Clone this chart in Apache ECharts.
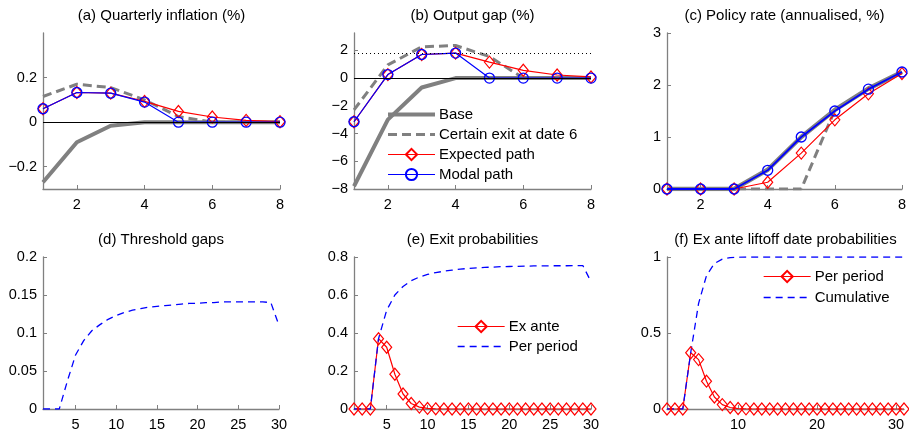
<!DOCTYPE html>
<html>
<head>
<meta charset="utf-8">
<style>
  html, body { margin: 0; padding: 0; background: #fff; }
  #chart { width: 909px; height: 432px; }
</style>
<script src="https://cdn.jsdelivr.net/npm/echarts@6/dist/echarts.min.js"></script>
</head>
<body>
<div id="chart"></div>
<script>
// Horizons
const periods8 = [1, 2, 3, 4, 5, 6, 7, 8];
const periods30 = [1,2,3,4,5,6,7,8,9,10,11,12,13,14,15,16,17,18,19,20,21,22,23,24,25,26,27,28,29,30];
const periods31 = [1,2,3,4,5,6,7,8,9,10,11,12,13,14,15,16,17,18,19,20,21,22,23,24,25,26,27,28,29,30,31];

// (a) Quarterly inflation (%)
const inflBase     = [-0.27, -0.09, -0.016, 0, 0, 0, 0, 0];
const inflExit6    = [0.115, 0.17, 0.155, 0.10, 0.025, 0, 0, 0];
const inflExpected = [0.06, 0.133, 0.13, 0.093, 0.048, 0.023, 0.008, 0.002];
const inflModal    = [0.06, 0.133, 0.13, 0.09, 0, 0, 0, 0];

// (b) Output gap (%)
const gapBase     = [-7.8, -3.0, -0.68, 0, 0, 0, 0, 0];
const gapExit6    = [-2.3, 0.95, 2.25, 2.35, 1.55, 0, 0, 0];
const gapExpected = [-3.15, 0.25, 1.7, 1.8, 1.15, 0.56, 0.22, 0.08];
const gapModal    = [-3.15, 0.25, 1.7, 1.8, 0, 0, 0, 0];
const gapThreshold = 1.8;

// (c) Policy rate (annualised, %)
const rateBase     = [0, 0, 0, 0.37, 1.0, 1.52, 1.93, 2.25];
const rateExit6    = [0, 0, 0, 0, 0, 1.52, 1.93, 2.25];
const rateExpected = [0, 0, 0, 0.13, 0.69, 1.33, 1.83, 2.22];
const rateModal    = [0, 0, 0, 0.36, 1.0, 1.5, 1.92, 2.25];

// (d) Threshold gaps
const thresholdGaps = [0, 0, 0, 0.037, 0.071, 0.090, 0.103, 0.111, 0.118, 0.123,
  0.127, 0.130, 0.132, 0.134, 0.135, 0.136, 0.137, 0.138, 0.139, 0.139,
  0.140, 0.140, 0.141, 0.141, 0.141, 0.141, 0.141, 0.141, 0.140, 0.110];

// (e) Exit probabilities
const exitExAnte = [0, 0, 0, 0.37, 0.325, 0.183, 0.079, 0.029, 0.010, 0.003,
  0.001, 0, 0, 0, 0, 0, 0, 0, 0, 0, 0, 0, 0, 0, 0, 0, 0, 0, 0, 0];
const exitPerPeriod = [0, 0, 0, 0.37, 0.52, 0.60, 0.645, 0.675, 0.695, 0.708,
  0.718, 0.725, 0.731, 0.736, 0.740, 0.743, 0.745, 0.747, 0.749, 0.750,
  0.751, 0.752, 0.753, 0.753, 0.754, 0.754, 0.754, 0.755, 0.755, 0.67];

// (f) Ex ante liftoff date probabilities
const liftoffPerPeriod = [0, 0, 0, 0.37, 0.325, 0.183, 0.079, 0.029, 0.010, 0.003,
  0.001, 0, 0, 0, 0, 0, 0, 0, 0, 0, 0, 0, 0, 0, 0, 0, 0, 0, 0, 0, 0];
const liftoffCumulative = [0, 0, 0, 0.37, 0.695, 0.878, 0.957, 0.986, 0.996, 0.999,
  1, 1, 1, 1, 1, 1, 1, 1, 1, 1, 1, 1, 1, 1, 1, 1, 1, 1, 1, 1, 1];

// Tick positions
const ticksX8 = [2, 4, 6, 8];
const ticksX30 = [5, 10, 15, 20, 25, 30];
const ticksX31 = [10, 20, 30];
const ticksInfl = [-0.2, 0, 0.2];
const ticksGap = [-8, -6, -4, -2, 0, 2];

const FONT = 'Liberation Sans, Arial, Helvetica, sans-serif';
const GRAY = '#808080';
const RED = '#ff0000';
const BLUE = '#0000ff';

const pairs = (xs, ys) => xs.map((x, i) => [x, ys[i]]);

const minusFmt = v => (v < 0 ? '\u2212' + String(-v) : String(v));

function xAxis(gridIndex, min, max, ticks) {
  return {
    type: 'value', gridIndex, min, max,
    axisLine: { show: true, onZero: false, lineStyle: { color: GRAY, width: 1.3 } },
    axisTick: { show: true, inside: true, length: 4, customValues: ticks, lineStyle: { color: GRAY, width: 1 } },
    axisLabel: { customValues: ticks, color: '#000', fontSize: 14.5, fontFamily: FONT, margin: 8 },
    splitLine: { show: false }
  };
}

function yAxis(gridIndex, min, max, opts) {
  const ax = {
    type: 'value', gridIndex, min, max,
    axisLine: { show: true, onZero: false, lineStyle: { color: GRAY, width: 1.3 } },
    axisTick: { show: true, inside: true, length: 4, lineStyle: { color: GRAY, width: 1 } },
    axisLabel: { color: '#000', fontSize: 14.5, fontFamily: FONT, margin: 6, formatter: minusFmt },
    splitLine: { show: false }
  };
  if (opts.ticks) {
    ax.axisTick.customValues = opts.ticks;
    ax.axisLabel.customValues = opts.ticks;
  }
  if (opts.interval) ax.interval = opts.interval;
  return ax;
}

function baseLine(name, idx, data, width) {
  return {
    name, type: 'line', xAxisIndex: idx, yAxisIndex: idx, data, z: 2,
    symbol: 'none', lineStyle: { color: GRAY, width: width || 4 }, itemStyle: { color: GRAY }
  };
}
function exitLine(name, idx, data) {
  return {
    name, type: 'line', xAxisIndex: idx, yAxisIndex: idx, data, z: 2,
    symbol: 'none', lineStyle: { color: GRAY, width: 3, type: [9, 5] }, itemStyle: { color: GRAY }
  };
}
function diamondLine(name, idx, data) {
  return {
    name, type: 'line', xAxisIndex: idx, yAxisIndex: idx, data, z: 3,
    symbol: 'diamond', symbolSize: [10, 12], showAllSymbol: true,
    lineStyle: { color: RED, width: 1.2 },
    itemStyle: { color: 'rgba(255,255,255,0)', borderColor: RED, borderWidth: 1.2 }
  };
}
function circleLine(name, idx, data, width) {
  return {
    name, type: 'line', xAxisIndex: idx, yAxisIndex: idx, data, z: 4,
    symbol: 'circle', symbolSize: 10, showAllSymbol: true,
    lineStyle: { color: BLUE, width: width || 1.2 },
    itemStyle: { color: 'rgba(255,255,255,0)', borderColor: BLUE, borderWidth: 1.3 }
  };
}
function dashedBlue(name, idx, data) {
  return {
    name, type: 'line', xAxisIndex: idx, yAxisIndex: idx, data, z: 3,
    symbol: 'none', lineStyle: { color: BLUE, width: 1.3, type: [7, 5] }, itemStyle: { color: BLUE }
  };
}
function refLine(idx, value, type) {
  return {
    type: 'line', xAxisIndex: idx, yAxisIndex: idx, data: [], z: 2.5, silent: true,
    markLine: {
      silent: true, symbol: 'none', animation: false,
      label: { show: false },
      lineStyle: { color: '#000', width: 1, type },
      data: [{ yAxis: value }]
    }
  };
}

// legend labels keyed by series name
const legendText = {
  'Base': 'Base',
  'Certain exit at date 6': 'Certain exit at date 6',
  'Expected path': 'Expected path',
  'Modal path': 'Modal path',
  'Ex ante': 'Ex ante',
  'Per period': 'Per period',
  'Per period liftoff': 'Per period',
  'Cumulative': 'Cumulative'
};

// entries for line-only series: no marker in the key
const lineOnly = name => ({ name, itemStyle: { opacity: 0 } });

function legend(left, top, names, gap) {
  return {
    orient: 'vertical', left, top, data: names,
    itemWidth: 47, itemHeight: 14, itemGap: gap, padding: 0,
    selectedMode: false,
    lineStyle: { width: 'inherit' },
    formatter: n => legendText[n],
    textStyle: { color: '#000', fontSize: 15, fontFamily: FONT, padding: [0, 0, 0, -1] }
  };
}

function title(text, cx, top) {
  return {
    text, left: cx, top, textAlign: 'center', padding: 0,
    textStyle: { color: '#000', fontSize: 15, fontWeight: 'normal', fontFamily: FONT }
  };
}

const option = {
  animation: false,
  backgroundColor: '#fff',
  title: [
    title('(a) Quarterly inflation (%)', 161.5, 8),
    title('(b) Output gap (%)', 472.5, 8),
    title('(c) Policy rate (annualised, %)', 784.5, 8),
    title('(d) Threshold gaps', 161, 232),
    title('(e) Exit probabilities', 472.5, 232),
    title('(f) Ex ante liftoff date probabilities', 785.5, 232)
  ],
  legend: [
    legend(386, 107, [lineOnly('Base'), lineOnly('Certain exit at date 6'), 'Expected path', 'Modal path'], 5),
    legend(457, 319, ['Ex ante', lineOnly('Per period')], 5),
    legend(763, 269, ['Per period liftoff', lineOnly('Cumulative')], 6)
  ],
  grid: [
    { left: 43, top: 33, width: 237, height: 156 },
    { left: 354, top: 33, width: 237, height: 156 },
    { left: 667, top: 33, width: 235, height: 156 },
    { left: 43, top: 257, width: 236, height: 155 },
    { left: 354, top: 257, width: 237, height: 155 },
    { left: 667, top: 257, width: 237, height: 155 }
  ],
  xAxis: [
    xAxis(0, 1, 8, ticksX8),
    xAxis(1, 1, 8, ticksX8),
    xAxis(2, 1, 8, ticksX8),
    xAxis(3, 1, 30, ticksX30),
    xAxis(4, 1, 30, ticksX30),
    xAxis(5, 1, 31, ticksX31)
  ],
  yAxis: [
    yAxis(0, -0.3, 0.4, { ticks: ticksInfl }),
    yAxis(1, -8, 3.25, { ticks: ticksGap }),
    yAxis(2, 0, 3, { interval: 1 }),
    yAxis(3, 0, 0.2, { interval: 0.05 }),
    yAxis(4, 0, 0.8, { interval: 0.2 }),
    yAxis(5, 0, 1, { interval: 0.5 })
  ],
  series: [
    // (a)
    baseLine('Base', 0, pairs(periods8, inflBase)),
    exitLine('Certain exit at date 6', 0, pairs(periods8, inflExit6)),
    refLine(0, 0, 'solid'),
    diamondLine('Expected path', 0, pairs(periods8, inflExpected)),
    circleLine('Modal path', 0, pairs(periods8, inflModal)),
    // (b)
    baseLine('Base', 1, pairs(periods8, gapBase)),
    exitLine('Certain exit at date 6', 1, pairs(periods8, gapExit6)),
    refLine(1, 0, 'solid'),
    refLine(1, gapThreshold, [1, 3]),
    diamondLine('Expected path', 1, pairs(periods8, gapExpected)),
    circleLine('Modal path', 1, pairs(periods8, gapModal)),
    // (c)
    baseLine('Base', 2, pairs(periods8, rateBase), 4.5),
    exitLine('Certain exit at date 6', 2, pairs(periods8, rateExit6)),
    diamondLine('Expected path', 2, pairs(periods8, rateExpected)),
    circleLine('Modal path', 2, pairs(periods8, rateModal), 1.8),
    // (d)
    dashedBlue('Threshold gap', 3, pairs(periods30, thresholdGaps)),
    // (e)
    diamondLine('Ex ante', 4, pairs(periods30, exitExAnte)),
    dashedBlue('Per period', 4, pairs(periods30, exitPerPeriod)),
    // (f)
    diamondLine('Per period liftoff', 5, pairs(periods31, liftoffPerPeriod)),
    dashedBlue('Cumulative', 5, pairs(periods31, liftoffCumulative))
  ]
};

const chart = echarts.init(document.getElementById('chart'), null, { renderer: 'canvas' });
chart.setOption(option);
</script>
</body>
</html>
